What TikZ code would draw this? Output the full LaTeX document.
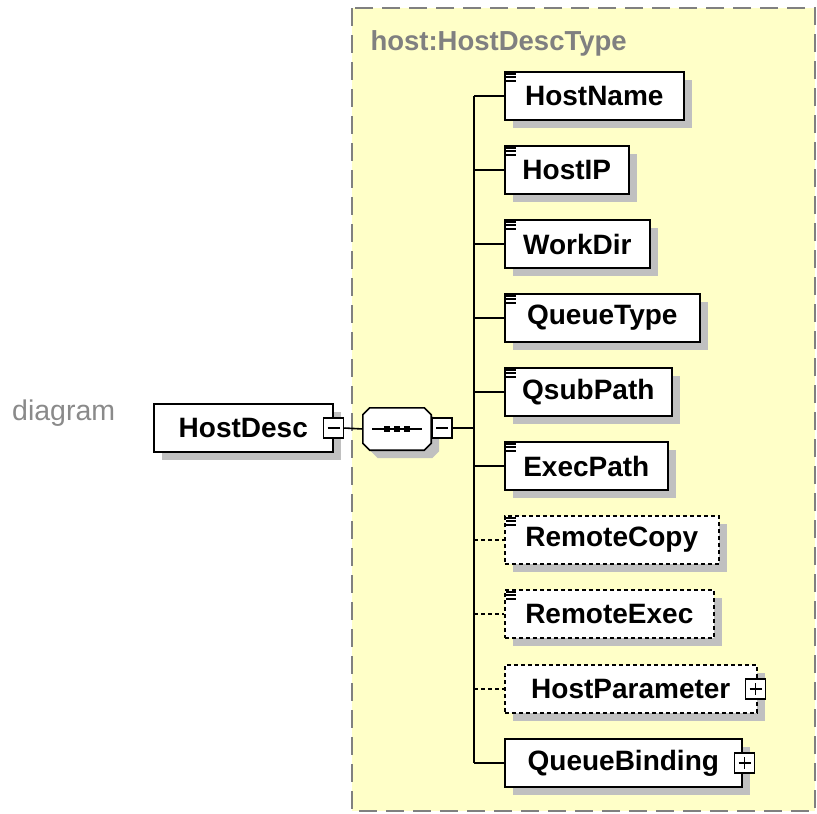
\documentclass[tikz,border=0pt]{standalone}
\usepackage{fontspec}
\setmainfont{Liberation Sans}
\usetikzlibrary{positioning}
\definecolor{paneyellow}{HTML}{FFFFC8}
\definecolor{panegray}{HTML}{808080}
\definecolor{shadegray}{HTML}{C0C0C0}
\definecolor{labelgray}{HTML}{8A8A8A}

\tikzset{
  shaded/.style={preaction={fill=shadegray, draw=none, transform canvas={shift={(8pt,-8pt)}}}},
  elem/.style={shaded, draw, fill=white, line width=1.6pt, minimum height=48pt,
    inner sep=0pt, anchor=west, font=\bfseries\fontsize{28}{32}\selectfont},
  optelem/.style={elem, dash pattern=on 4pt off 3pt},
  link/.style={line width=1.6pt},
  optlink/.style={line width=1.6pt, dash pattern=on 4pt off 3pt},
  minusbox/.style={draw, fill=white, line width=1.3pt, minimum size=20pt, inner sep=0pt,
    path picture={\draw[line width=1.3pt] ([xshift=4pt]path picture bounding box.west)
      -- ([xshift=-4pt]path picture bounding box.east);}},
  plusbox/.style={draw, fill=white, line width=1.3pt, minimum size=20pt, inner sep=0pt,
    path picture={\draw[line width=1.3pt] ([xshift=4pt]path picture bounding box.west)
      -- ([xshift=-4pt]path picture bounding box.east)
      ([yshift=-4pt]path picture bounding box.north) -- ([yshift=4pt]path picture bounding box.south);}},
  dotsq/.style={fill, minimum size=6pt, inner sep=0pt},
}
% octagon round the compositor node
\newcommand{\octopath}[1]{([xshift=7pt]#1.north west) -- ([xshift=-7pt]#1.north east)
  -- ([yshift=-7pt]#1.north east) -- ([yshift=7pt]#1.south east)
  -- ([xshift=-7pt]#1.south east) -- ([xshift=7pt]#1.south west)
  -- ([yshift=7pt]#1.south west) -- ([yshift=-7pt]#1.north west) -- cycle}

\begin{document}
\begin{tikzpicture}[x=1pt, y=-1pt]
  \useasboundingbox (0,0) rectangle (817,814);

  % Type pane
  \draw[panegray, fill=paneyellow, line width=2pt, dash pattern=on 18pt off 9pt]
    (352,8) rectangle (815,811);
  \node[anchor=base west, text=panegray, font=\bfseries\fontsize{27.5}{32}\selectfont]
    (typename) at (367,50) {host:HostDescType};

  % Caption
  \node[anchor=base west, text=labelgray, font=\fontsize{28.5}{32}\selectfont, inner sep=0pt]
    (caption) at (12,420) {diagram};

  % Root element
  \node[elem, minimum width=179pt] (hdesc) at (153,428) {HostDesc};
  \node[minusbox] (hdm) at (hdesc.east) {};

  % Sequence compositor
  \node[minimum width=68pt, minimum height=42pt, inner sep=0pt] (seq) at (397,429) {};
  \fill[shadegray, transform canvas={shift={(8pt,-8pt)}}] \octopath{seq};
  \draw[fill=white, line width=1.6pt] \octopath{seq};
  \draw[line width=1.6pt] ([xshift=-25pt]seq.center) -- ([xshift=25pt]seq.center);
  \foreach \dx in {-10,0,10}
    \node[dotsq] at ([xshift=\dx pt]seq.center) {};
  \node[minusbox] (seqm) at (442,428) {};

  % Children
  \node[elem, minimum width=179pt] (hname) at (504,96) {HostName};
  \node[elem, minimum width=124pt] (hip) at (504,170) {HostIP};
  \node[elem, minimum width=145pt] (wdir) at (504,244) {WorkDir};
  \node[elem, minimum width=195pt] (qtype) at (504,318) {QueueType};
  \node[elem, minimum width=167pt] (qsub) at (504,392) {QsubPath};
  \node[elem, minimum width=163pt] (epath) at (504,466) {ExecPath};
  \node[optelem, minimum width=214pt] (rcopy) at (504,540) {RemoteCopy};
  \node[optelem, minimum width=209pt] (rexec) at (504,614) {RemoteExec};
  \node[optelem, minimum width=252pt] (hparam) at (504,689) {HostParameter\hspace{12pt}};
  \node[elem, minimum width=237pt] (qbind) at (504,763) {QueueBinding\hspace{12pt}};
  \node[plusbox] (hparamp) at ([xshift=-2pt]hparam.east) {};
  \node[plusbox] (qbindp) at ([xshift=2pt]qbind.east) {};

  % Simple-content marks
  \foreach \n in {hname,hip,wdir,qtype,qsub,epath,rcopy,rexec}
    \foreach \dy in {2.5,6,9.5}
      \draw[line width=1.7pt] ([shift={(2pt,-\dy pt)}]\n.north west) -- ++(9.5,0);

  % Connectors
  \coordinate (bus) at (474,428);
  \draw[link] (hdm.east) -- (seq.west);
  \draw[link] (seqm.east) -- (bus);
  \draw[link] (hname.west -| bus) -- (qbind.west -| bus);
  \foreach \n in {hname,hip,wdir,qtype,qsub,epath,qbind}
    \draw[link] (\n.west -| bus) -- (\n.west);
  \foreach \n in {rcopy,rexec,hparam}
    \draw[optlink] (\n.west -| bus) -- (\n.west);
\end{tikzpicture}
\end{document}
